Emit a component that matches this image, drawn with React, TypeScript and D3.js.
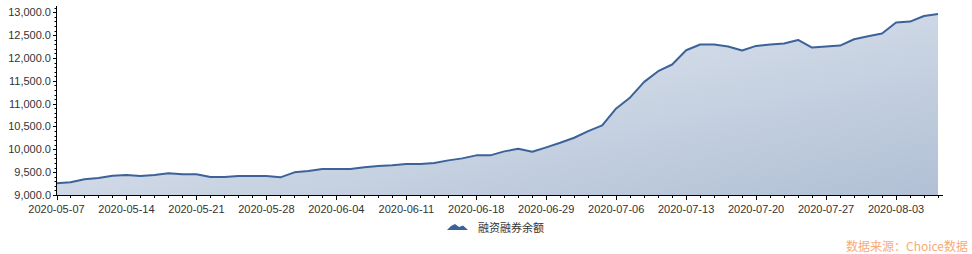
import React from "react";
import * as d3 from "d3";

const dates: string[] = [
  "2020-05-07","2020-05-08","2020-05-11","2020-05-12","2020-05-13","2020-05-14","2020-05-15","2020-05-18","2020-05-19","2020-05-20",
  "2020-05-21","2020-05-22","2020-05-25","2020-05-26","2020-05-27","2020-05-28","2020-05-29","2020-06-01","2020-06-02","2020-06-03",
  "2020-06-04","2020-06-05","2020-06-08","2020-06-09","2020-06-10","2020-06-11","2020-06-12","2020-06-15","2020-06-16","2020-06-17",
  "2020-06-18","2020-06-19","2020-06-22","2020-06-23","2020-06-24","2020-06-29","2020-06-30","2020-07-01","2020-07-02","2020-07-03",
  "2020-07-06","2020-07-07","2020-07-08","2020-07-09","2020-07-10","2020-07-13","2020-07-14","2020-07-15","2020-07-16","2020-07-17",
  "2020-07-20","2020-07-21","2020-07-22","2020-07-23","2020-07-24","2020-07-27","2020-07-28","2020-07-29","2020-07-30","2020-07-31",
  "2020-08-03","2020-08-04","2020-08-05","2020-08-06",
];

const balance: number[] = [
  9256, 9277, 9343, 9372, 9422, 9437, 9415, 9437, 9474, 9452,
  9452, 9393, 9393, 9415, 9415, 9415, 9386, 9496, 9525, 9568,
  9568, 9568, 9605, 9634, 9649, 9678, 9678, 9700, 9758, 9802,
  9868, 9868, 9955, 10012, 9947, 10043, 10144, 10253, 10399, 10524,
  10895, 11136, 11477, 11711, 11857, 12170, 12294, 12294, 12250, 12163,
  12264, 12294, 12316, 12395, 12228, 12250, 12272, 12410, 12476, 12535,
  12775, 12797, 12920, 12963,
];

const yTicks: number[] = [9000, 9500, 10000, 10500, 11000, 11500, 12000, 12500, 13000];
const seriesName = "融资融券余额";
const sourceText = "数据来源：Choice数据";

export default function App() {
  const W = 972, H = 254;
  const x0 = 56.5, x1 = 938, axisEnd = 943;
  const x = d3.scaleLinear().domain([0, dates.length - 1]).range([x0, x1]);
  const y = d3.scaleLinear().domain([9000, 13000]).range([195, 12.3]);
  const pts = balance.map((v, i) => [x(i), y(v)] as [number, number]);
  const line = d3.line<[number, number]>().x(d => d[0]).y(d => d[1])(pts) || "";
  const area = d3.area<[number, number]>().x(d => d[0]).y0(y(9000)).y1(d => d[1])(pts) || "";
  const minor = d3.range(9000, 13101, 100).filter(v => v % 500 !== 0);
  const font = "'Liberation Sans', Arial, sans-serif";
  const cjk = "'Noto Sans CJK SC', sans-serif";
  return (
    <div style={{ position: "fixed", left: 0, top: 0 }}>
      <svg width={W} height={H} style={{ display: "block", background: "#fff" }}>
        <defs>
          <linearGradient id="g" x1="0" y1="0" x2="1" y2="1">
            <stop offset="0" stopColor="#e9eef5" />
            <stop offset="1" stopColor="#b1c0d5" />
          </linearGradient>
        </defs>
        <path d={area} fill="url(#g)" />
        <path d={line} fill="none" stroke="#3b6399" strokeWidth={2} strokeLinejoin="round" />
        {/* y axis */}
        <line x1={56.5} x2={56.5} y1={6} y2={195.5} stroke="#000" strokeWidth={1} />
        {yTicks.map(v => (
          <g key={v}>
            <line x1={53} x2={56.5} y1={Math.round(y(v)) + 0.5} y2={Math.round(y(v)) + 0.5} stroke="#000" />
            <text x={51} y={y(v) + 4} textAnchor="end" fontFamily={font} fontSize={11} fill="#333">
              {d3.format(",.1f")(v)}
            </text>
          </g>
        ))}
        {minor.map(v => (
          <line key={v} x1={54.5} x2={56.5} y1={Math.round(y(v)) + 0.5} y2={Math.round(y(v)) + 0.5} stroke="#000" />
        ))}
        {/* x axis */}
        <line x1={56} x2={axisEnd} y1={195.5} y2={195.5} stroke="#000" />
        {dates.map((d, i) => (
          <line key={d} x1={Math.round(x(i)) + 0.5} x2={Math.round(x(i)) + 0.5} y1={195.5} y2={i % 5 === 0 ? 200 : 198}
            stroke="#000" />
        ))}
        {dates.map((d, i) => i % 5 === 0 ? (
          <text key={d} x={x(i)} y={213} textAnchor="middle" fontFamily={font} fontSize={11} fill="#333">{d}</text>
        ) : null)}
        {/* legend */}
        <path d="M447,230 L451,226 L455,224 L459,227 L463,225.5 L468,230 Z" fill="#3b6399" />
        <text x={478} y={232} fontFamily={cjk} fontSize={11} fill="#333">{seriesName}</text>
        <text x={968} y={251} textAnchor="end" fontFamily={cjk} fontSize={12} fill="#f7ab74">{sourceText}</text>
      </svg>
    </div>
  );
}
